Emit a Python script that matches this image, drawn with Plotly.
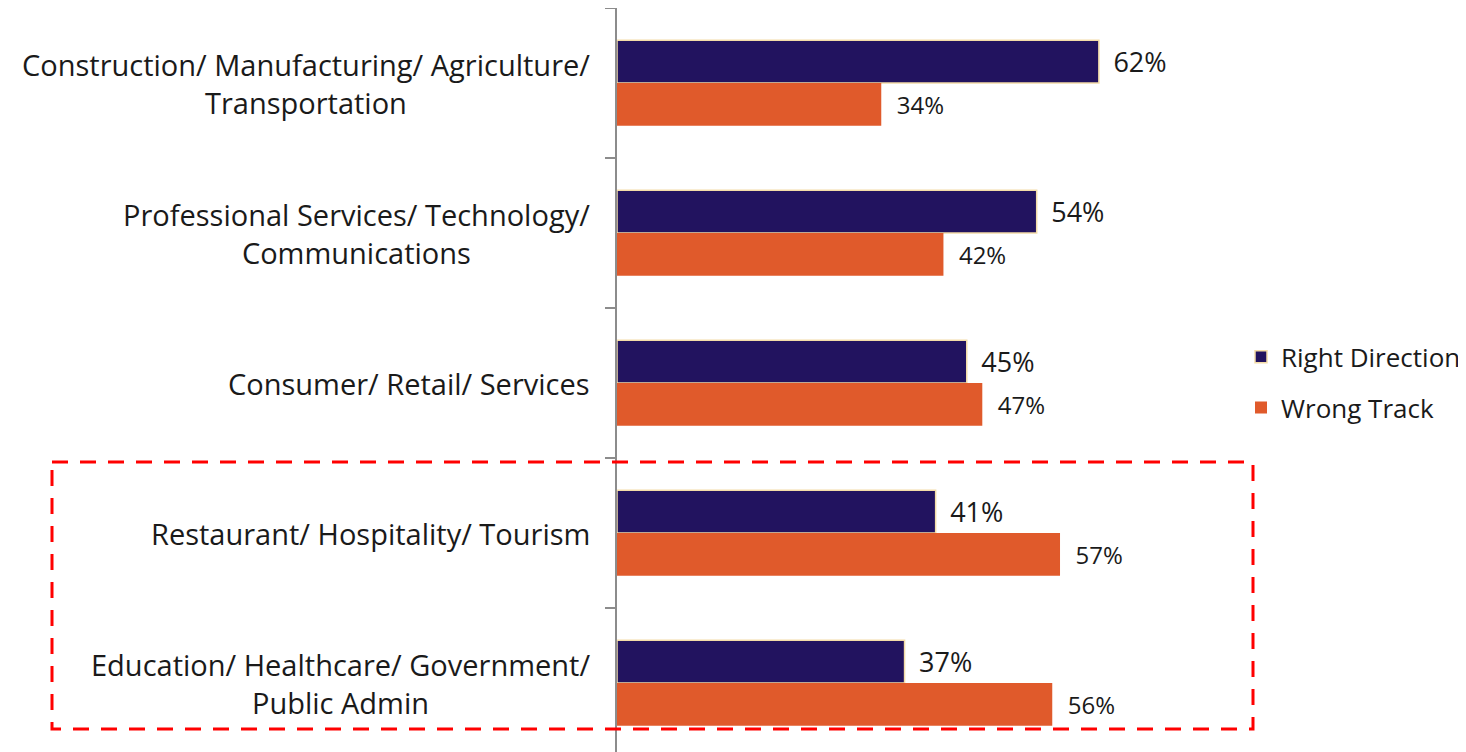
import plotly.graph_objects as go

categories = [
    "Construction/ Manufacturing/ Agriculture/<br>Transportation",
    "Professional Services/ Technology/<br>Communications",
    "Consumer/ Retail/ Services",
    "Restaurant/ Hospitality/ Tourism",
    "Education/ Healthcare/ Government/<br>Public Admin",
]
right_direction = [62, 54, 45, 41, 37]
wrong_track = [34, 42, 47, 57, 56]

FONT = "Open Sans"
idx = list(range(len(categories)))

fig = go.Figure()
fig.add_trace(go.Bar(
    y=idx, x=right_direction, orientation="h", name="Right Direction",
    marker=dict(color="#22135F", line=dict(color="#F3DCA8", width=1.5)),
    text=[f"{v}%" for v in right_direction], texttemplate=" \u2009%{text}",
    textposition="outside", textfont=dict(family=FONT, size=27, color="#1a1a1a"),
    cliponaxis=False, legendgroup="a",
))
fig.add_trace(go.Bar(
    y=idx, x=wrong_track, orientation="h", name="Wrong Track",
    marker=dict(color="#E05A2B", line=dict(width=0)),
    text=[f"{v}%" for v in wrong_track], texttemplate="  %{text}",
    textposition="outside", textfont=dict(family=FONT, size=24, color="#1a1a1a"),
    cliponaxis=False, legendgroup="b",
))

annotations = []
for i, c in enumerate(categories):
    annotations.append(dict(
        x=0, xref="paper", xshift=-25, xanchor="right", y=i, yref="y",
        text=c, showarrow=False, align="center",
        font=dict(family=FONT, size=29, color="#1a1a1a"),
    ))

fig.update_layout(
    width=1458, height=744,
    margin=dict(l=609, r=221, t=0, b=0),
    paper_bgcolor="white", plot_bgcolor="white",
    barmode="group", bargap=0.43, bargroupgap=0,
    font=dict(family=FONT, color="#1a1a1a"),
    xaxis=dict(range=[0, 80.8], visible=False, fixedrange=True),
    yaxis=dict(
        type="linear", range=[4.46, -0.5], showticklabels=False,
        showline=True, linecolor="#8c8c8c", linewidth=2,
        tickmode="array", tickvals=[-0.5, 0.5, 1.5, 2.5, 3.5, 4.5],
        ticks="outside", ticklen=10, tickcolor="#8c8c8c", tickwidth=2,
        showgrid=False, zeroline=False,
    ),
    legend=dict(
        x=0.994, xanchor="left", y=0.497, yanchor="middle",
        font=dict(family=FONT, size=26, color="#1a1a1a"),
        traceorder="grouped", tracegroupgap=14, bgcolor="rgba(0,0,0,0)",
    ),
    annotations=annotations,
    shapes=[dict(
        type="rect", xref="paper", yref="y",
        x0=(52 - 617) / 628, x1=(1253 - 617) / 628, y0=2.527, y1=4.307,
        line=dict(color="#FF0000", width=3, dash="16px,12px"),
        fillcolor="rgba(0,0,0,0)",
    )],
)

fig.write_html("out.html")
